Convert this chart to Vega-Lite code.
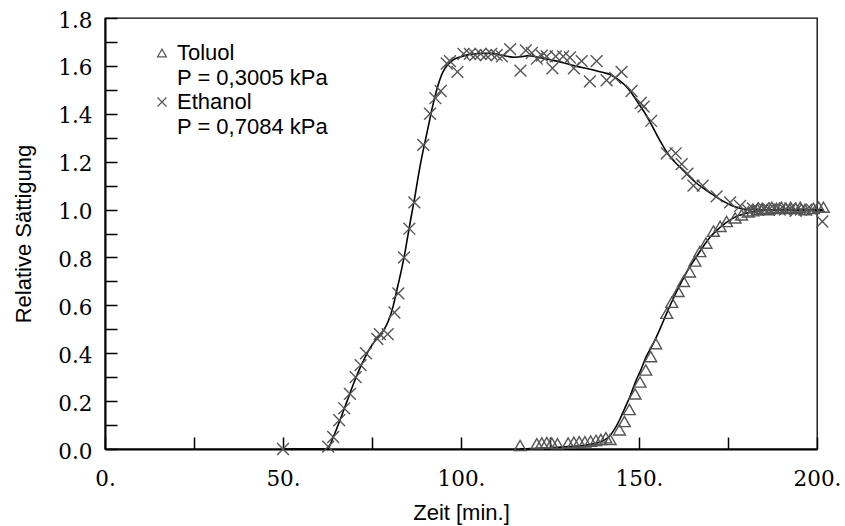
{
  "$schema": "https://vega.github.io/schema/vega-lite/v6.json",
  "width": 712,
  "height": 431,
  "autosize": "none",
  "padding": {"left": 105, "top": 18, "right": 28, "bottom": 77},
  "background": "white",
  "config": {
    "view": {"stroke": "black", "strokeWidth": 1.3},
    "axis": {"grid": false},
    "style": {"guide-label": {"lineHeight": 25}}
  },
  "datasets": {
    "pts": [
      {"s": "Ethanol", "t": 50, "v": 0.0},
      {"s": "Ethanol", "t": 62.7, "v": 0.01},
      {"s": "Ethanol", "t": 64.1, "v": 0.05},
      {"s": "Ethanol", "t": 65.8, "v": 0.12},
      {"s": "Ethanol", "t": 67.2, "v": 0.17},
      {"s": "Ethanol", "t": 68.8, "v": 0.23},
      {"s": "Ethanol", "t": 70.4, "v": 0.3},
      {"s": "Ethanol", "t": 71.8, "v": 0.35},
      {"s": "Ethanol", "t": 73.3, "v": 0.4},
      {"s": "Ethanol", "t": 76.5, "v": 0.46},
      {"s": "Ethanol", "t": 77.2, "v": 0.48},
      {"s": "Ethanol", "t": 79.4, "v": 0.48},
      {"s": "Ethanol", "t": 81.3, "v": 0.57},
      {"s": "Ethanol", "t": 82.4, "v": 0.65},
      {"s": "Ethanol", "t": 84.0, "v": 0.8},
      {"s": "Ethanol", "t": 85.5, "v": 0.92},
      {"s": "Ethanol", "t": 86.9, "v": 1.03},
      {"s": "Ethanol", "t": 89.4, "v": 1.27},
      {"s": "Ethanol", "t": 91.3, "v": 1.4},
      {"s": "Ethanol", "t": 92.8, "v": 1.465},
      {"s": "Ethanol", "t": 94.3, "v": 1.495},
      {"s": "Ethanol", "t": 96.0, "v": 1.61},
      {"s": "Ethanol", "t": 96.9, "v": 1.62},
      {"s": "Ethanol", "t": 99.0, "v": 1.575},
      {"s": "Ethanol", "t": 100.7, "v": 1.65},
      {"s": "Ethanol", "t": 102.5, "v": 1.65},
      {"s": "Ethanol", "t": 104.0, "v": 1.645},
      {"s": "Ethanol", "t": 105.5, "v": 1.65},
      {"s": "Ethanol", "t": 107.0, "v": 1.645},
      {"s": "Ethanol", "t": 108.5, "v": 1.65},
      {"s": "Ethanol", "t": 110.0, "v": 1.645},
      {"s": "Ethanol", "t": 111.5, "v": 1.64},
      {"s": "Ethanol", "t": 113.8, "v": 1.67},
      {"s": "Ethanol", "t": 116.7, "v": 1.58},
      {"s": "Ethanol", "t": 118.2, "v": 1.665},
      {"s": "Ethanol", "t": 119.9, "v": 1.654},
      {"s": "Ethanol", "t": 121.3, "v": 1.63},
      {"s": "Ethanol", "t": 122.7, "v": 1.643},
      {"s": "Ethanol", "t": 124.1, "v": 1.64},
      {"s": "Ethanol", "t": 125.7, "v": 1.59},
      {"s": "Ethanol", "t": 126.6, "v": 1.64},
      {"s": "Ethanol", "t": 128.7, "v": 1.64},
      {"s": "Ethanol", "t": 130.6, "v": 1.635},
      {"s": "Ethanol", "t": 131.7, "v": 1.59},
      {"s": "Ethanol", "t": 133.9, "v": 1.62},
      {"s": "Ethanol", "t": 136.2, "v": 1.535},
      {"s": "Ethanol", "t": 138.1, "v": 1.62},
      {"s": "Ethanol", "t": 140.9, "v": 1.54},
      {"s": "Ethanol", "t": 143.3, "v": 1.55},
      {"s": "Ethanol", "t": 145.1, "v": 1.575},
      {"s": "Ethanol", "t": 147.9, "v": 1.495},
      {"s": "Ethanol", "t": 150.5, "v": 1.445},
      {"s": "Ethanol", "t": 151.3, "v": 1.43},
      {"s": "Ethanol", "t": 153.4, "v": 1.37},
      {"s": "Ethanol", "t": 157.8, "v": 1.235},
      {"s": "Ethanol", "t": 160.3, "v": 1.235},
      {"s": "Ethanol", "t": 162.0, "v": 1.19},
      {"s": "Ethanol", "t": 163.6, "v": 1.15},
      {"s": "Ethanol", "t": 165.3, "v": 1.1},
      {"s": "Ethanol", "t": 167.9, "v": 1.1},
      {"s": "Ethanol", "t": 171.8, "v": 1.055},
      {"s": "Ethanol", "t": 175.6, "v": 1.03},
      {"s": "Ethanol", "t": 178.4, "v": 1.015},
      {"s": "Ethanol", "t": 180.5, "v": 1.0},
      {"s": "Ethanol", "t": 182.0, "v": 1.005},
      {"s": "Ethanol", "t": 183.5, "v": 1.0},
      {"s": "Ethanol", "t": 185.0, "v": 1.005},
      {"s": "Ethanol", "t": 186.5, "v": 1.0},
      {"s": "Ethanol", "t": 188.0, "v": 1.005},
      {"s": "Ethanol", "t": 189.5, "v": 1.0},
      {"s": "Ethanol", "t": 191.0, "v": 1.0},
      {"s": "Ethanol", "t": 192.5, "v": 1.005},
      {"s": "Ethanol", "t": 194.0, "v": 0.995},
      {"s": "Ethanol", "t": 195.5, "v": 1.0},
      {"s": "Ethanol", "t": 197.0, "v": 1.0},
      {"s": "Ethanol", "t": 198.5, "v": 1.0},
      {"s": "Ethanol", "t": 201.5, "v": 0.95},
      {"s": "Toluol", "t": 116.6, "v": 0.015},
      {"s": "Toluol", "t": 121.3, "v": 0.022},
      {"s": "Toluol", "t": 122.7, "v": 0.025},
      {"s": "Toluol", "t": 124.1, "v": 0.027},
      {"s": "Toluol", "t": 125.5, "v": 0.025},
      {"s": "Toluol", "t": 127.1, "v": 0.022},
      {"s": "Toluol", "t": 130.1, "v": 0.025},
      {"s": "Toluol", "t": 131.7, "v": 0.028},
      {"s": "Toluol", "t": 133.2, "v": 0.03},
      {"s": "Toluol", "t": 134.8, "v": 0.03},
      {"s": "Toluol", "t": 136.4, "v": 0.033},
      {"s": "Toluol", "t": 137.9, "v": 0.036},
      {"s": "Toluol", "t": 139.3, "v": 0.04},
      {"s": "Toluol", "t": 140.7, "v": 0.047},
      {"s": "Toluol", "t": 141.9, "v": 0.04},
      {"s": "Toluol", "t": 144.5, "v": 0.08},
      {"s": "Toluol", "t": 145.9, "v": 0.115},
      {"s": "Toluol", "t": 147.3, "v": 0.165},
      {"s": "Toluol", "t": 148.9, "v": 0.23},
      {"s": "Toluol", "t": 150.3, "v": 0.28},
      {"s": "Toluol", "t": 151.9, "v": 0.33},
      {"s": "Toluol", "t": 153.3, "v": 0.386},
      {"s": "Toluol", "t": 154.7, "v": 0.44},
      {"s": "Toluol", "t": 157.8, "v": 0.567},
      {"s": "Toluol", "t": 159.2, "v": 0.613},
      {"s": "Toluol", "t": 161.0, "v": 0.658},
      {"s": "Toluol", "t": 162.5, "v": 0.7},
      {"s": "Toluol", "t": 164.2, "v": 0.74},
      {"s": "Toluol", "t": 165.7, "v": 0.785},
      {"s": "Toluol", "t": 167.1, "v": 0.825},
      {"s": "Toluol", "t": 168.8, "v": 0.86},
      {"s": "Toluol", "t": 170.9, "v": 0.91},
      {"s": "Toluol", "t": 172.8, "v": 0.93},
      {"s": "Toluol", "t": 174.6, "v": 0.95},
      {"s": "Toluol", "t": 177.0, "v": 0.965},
      {"s": "Toluol", "t": 178.8, "v": 0.978},
      {"s": "Toluol", "t": 180.7, "v": 0.99},
      {"s": "Toluol", "t": 182.0, "v": 0.995},
      {"s": "Toluol", "t": 183.3, "v": 1.0},
      {"s": "Toluol", "t": 184.6, "v": 1.005},
      {"s": "Toluol", "t": 186.0, "v": 1.0},
      {"s": "Toluol", "t": 187.3, "v": 1.01},
      {"s": "Toluol", "t": 188.6, "v": 1.005},
      {"s": "Toluol", "t": 190.0, "v": 1.01},
      {"s": "Toluol", "t": 191.3, "v": 1.005},
      {"s": "Toluol", "t": 192.6, "v": 1.01},
      {"s": "Toluol", "t": 194.0, "v": 1.005},
      {"s": "Toluol", "t": 195.3, "v": 1.01},
      {"s": "Toluol", "t": 196.6, "v": 1.0},
      {"s": "Toluol", "t": 199.0, "v": 1.005},
      {"s": "Toluol", "t": 200.5, "v": 1.01},
      {"s": "Toluol", "t": 201.8, "v": 1.01}
    ],
    "fit": [
      {"s": "Ethanol", "t": 50, "v": 0},
      {"s": "Ethanol", "t": 62.5, "v": 0},
      {"s": "Ethanol", "t": 63, "v": 0.01},
      {"s": "Ethanol", "t": 64, "v": 0.045},
      {"s": "Ethanol", "t": 66, "v": 0.12},
      {"s": "Ethanol", "t": 68, "v": 0.2},
      {"s": "Ethanol", "t": 70, "v": 0.28},
      {"s": "Ethanol", "t": 72, "v": 0.35},
      {"s": "Ethanol", "t": 74, "v": 0.41},
      {"s": "Ethanol", "t": 76, "v": 0.455},
      {"s": "Ethanol", "t": 78, "v": 0.49},
      {"s": "Ethanol", "t": 79, "v": 0.515},
      {"s": "Ethanol", "t": 80, "v": 0.55},
      {"s": "Ethanol", "t": 81, "v": 0.6},
      {"s": "Ethanol", "t": 82, "v": 0.665},
      {"s": "Ethanol", "t": 83, "v": 0.73},
      {"s": "Ethanol", "t": 84, "v": 0.8},
      {"s": "Ethanol", "t": 85, "v": 0.885},
      {"s": "Ethanol", "t": 86, "v": 0.97},
      {"s": "Ethanol", "t": 87, "v": 1.05},
      {"s": "Ethanol", "t": 88, "v": 1.14},
      {"s": "Ethanol", "t": 89, "v": 1.22},
      {"s": "Ethanol", "t": 90, "v": 1.29},
      {"s": "Ethanol", "t": 91, "v": 1.36},
      {"s": "Ethanol", "t": 92, "v": 1.43},
      {"s": "Ethanol", "t": 93, "v": 1.49},
      {"s": "Ethanol", "t": 94, "v": 1.54},
      {"s": "Ethanol", "t": 95, "v": 1.577},
      {"s": "Ethanol", "t": 96, "v": 1.6},
      {"s": "Ethanol", "t": 97, "v": 1.615},
      {"s": "Ethanol", "t": 98, "v": 1.627},
      {"s": "Ethanol", "t": 100, "v": 1.638},
      {"s": "Ethanol", "t": 102, "v": 1.647},
      {"s": "Ethanol", "t": 104, "v": 1.651},
      {"s": "Ethanol", "t": 107, "v": 1.653},
      {"s": "Ethanol", "t": 110, "v": 1.649},
      {"s": "Ethanol", "t": 113, "v": 1.64},
      {"s": "Ethanol", "t": 115, "v": 1.636},
      {"s": "Ethanol", "t": 117, "v": 1.638},
      {"s": "Ethanol", "t": 119, "v": 1.643},
      {"s": "Ethanol", "t": 121, "v": 1.638},
      {"s": "Ethanol", "t": 123, "v": 1.632},
      {"s": "Ethanol", "t": 126, "v": 1.623},
      {"s": "Ethanol", "t": 129, "v": 1.612},
      {"s": "Ethanol", "t": 132, "v": 1.6},
      {"s": "Ethanol", "t": 135, "v": 1.59},
      {"s": "Ethanol", "t": 138, "v": 1.58},
      {"s": "Ethanol", "t": 140, "v": 1.572},
      {"s": "Ethanol", "t": 142, "v": 1.563},
      {"s": "Ethanol", "t": 144, "v": 1.545},
      {"s": "Ethanol", "t": 146, "v": 1.52},
      {"s": "Ethanol", "t": 148, "v": 1.485},
      {"s": "Ethanol", "t": 150, "v": 1.44},
      {"s": "Ethanol", "t": 152, "v": 1.395},
      {"s": "Ethanol", "t": 154, "v": 1.34},
      {"s": "Ethanol", "t": 156, "v": 1.285},
      {"s": "Ethanol", "t": 158, "v": 1.235},
      {"s": "Ethanol", "t": 160, "v": 1.2},
      {"s": "Ethanol", "t": 162, "v": 1.17},
      {"s": "Ethanol", "t": 164, "v": 1.14},
      {"s": "Ethanol", "t": 166, "v": 1.112},
      {"s": "Ethanol", "t": 168, "v": 1.09},
      {"s": "Ethanol", "t": 170, "v": 1.07},
      {"s": "Ethanol", "t": 172, "v": 1.05},
      {"s": "Ethanol", "t": 174, "v": 1.032},
      {"s": "Ethanol", "t": 176, "v": 1.017},
      {"s": "Ethanol", "t": 178, "v": 1.007},
      {"s": "Ethanol", "t": 180, "v": 1.001},
      {"s": "Ethanol", "t": 185, "v": 0.999},
      {"s": "Ethanol", "t": 190, "v": 0.998},
      {"s": "Ethanol", "t": 195, "v": 0.997},
      {"s": "Ethanol", "t": 201.8, "v": 0.995},
      {"s": "Toluol", "t": 116.6, "v": 0},
      {"s": "Toluol", "t": 120, "v": 0.002},
      {"s": "Toluol", "t": 125, "v": 0.005},
      {"s": "Toluol", "t": 130, "v": 0.01},
      {"s": "Toluol", "t": 135, "v": 0.016},
      {"s": "Toluol", "t": 138, "v": 0.024},
      {"s": "Toluol", "t": 140, "v": 0.035},
      {"s": "Toluol", "t": 141.5, "v": 0.05},
      {"s": "Toluol", "t": 143, "v": 0.08},
      {"s": "Toluol", "t": 144.5, "v": 0.12},
      {"s": "Toluol", "t": 146, "v": 0.17},
      {"s": "Toluol", "t": 147.5, "v": 0.22},
      {"s": "Toluol", "t": 149, "v": 0.28},
      {"s": "Toluol", "t": 150.5, "v": 0.33},
      {"s": "Toluol", "t": 152, "v": 0.385},
      {"s": "Toluol", "t": 154, "v": 0.44},
      {"s": "Toluol", "t": 156, "v": 0.505},
      {"s": "Toluol", "t": 158, "v": 0.575},
      {"s": "Toluol", "t": 160, "v": 0.64},
      {"s": "Toluol", "t": 162, "v": 0.7},
      {"s": "Toluol", "t": 164, "v": 0.755},
      {"s": "Toluol", "t": 166, "v": 0.8},
      {"s": "Toluol", "t": 168, "v": 0.845},
      {"s": "Toluol", "t": 170, "v": 0.885},
      {"s": "Toluol", "t": 172, "v": 0.915},
      {"s": "Toluol", "t": 174, "v": 0.94},
      {"s": "Toluol", "t": 176, "v": 0.96},
      {"s": "Toluol", "t": 178, "v": 0.975},
      {"s": "Toluol", "t": 180, "v": 0.985},
      {"s": "Toluol", "t": 183, "v": 0.993},
      {"s": "Toluol", "t": 187, "v": 0.998},
      {"s": "Toluol", "t": 192, "v": 1.0},
      {"s": "Toluol", "t": 201.8, "v": 1.0}
    ]
  },
  "encoding": {
    "x": {
      "field": "t",
      "type": "quantitative",
      "scale": {"domain": [0, 200], "nice": false, "zero": false},
      "axis": {
        "title": "Zeit [min.]",
        "values": [0, 25, 50, 75, 100, 125, 150, 175, 200],
        "labelExpr": "datum.value % 50 === 0 ? datum.value + '.' : ''",
        "labelFont": "DejaVu Serif",
        "labelFontSize": 21.5,
        "labelColor": "black",
        "labelPadding": 31,
        "labelFlush": false,
        "labelOverlap": false,
        "labelBound": false,
        "tickSize": -12,
        "tickColor": "black",
        "tickWidth": 1.5,
        "domainColor": "black",
        "domainWidth": 2,
        "titleFont": "Liberation Sans",
        "titleFontSize": 22,
        "titleFontWeight": "normal",
        "titleColor": "black",
        "titlePadding": 13,
        "encode": {"ticks": {"update": {"y2": {"signal": "datum.value % 50 === 0 ? -24 : -12"}}}}
      }
    },
    "y": {
      "field": "v",
      "type": "quantitative",
      "scale": {"domain": [0, 1.8], "nice": false},
      "axis": {
        "title": "Relative Sättigung",
        "values": [0, 0.1, 0.2, 0.3, 0.4, 0.5, 0.6, 0.7, 0.8, 0.9, 1.0, 1.1, 1.2, 1.3, 1.4, 1.5, 1.6, 1.7, 1.8],
        "labelExpr": "abs(datum.value*5 - round(datum.value*5)) < 0.01 ? format(datum.value, '.1f') : ''",
        "labelFont": "DejaVu Serif",
        "labelFontSize": 21.5,
        "labelColor": "black",
        "labelPadding": 25,
        "labelOffset": 3,
        "labelOverlap": false,
        "labelBound": false,
        "labelFlush": false,
        "tickSize": -12,
        "tickColor": "black",
        "tickWidth": 1.5,
        "domainColor": "black",
        "domainWidth": 2,
        "titleFont": "Liberation Sans",
        "titleFontSize": 22,
        "titleFontWeight": "normal",
        "titleColor": "black",
        "titlePadding": 22,
        "encode": {"ticks": {"update": {"x2": {"signal": "abs(datum.value*5 - round(datum.value*5)) < 0.01 ? 24 : 12"}}}}
      }
    }
  },
  "layer": [
    {
      "mark": {"type": "rule", "color": "black", "strokeWidth": 1.5},
      "encoding": {"y": {"datum": 1}, "x": {"datum": 0}, "x2": {"datum": 200}}
    },
    {
      "data": {"name": "fit"},
      "mark": {"type": "line", "color": "black", "strokeWidth": 1.6, "interpolate": "monotone"},
      "encoding": {"detail": {"field": "s"}}
    },
    {
      "data": {"name": "pts"},
      "mark": {"type": "point", "filled": false, "stroke": "#555555", "strokeWidth": 1.4, "size": 140, "opacity": 1},
      "encoding": {
        "shape": {
          "field": "s",
          "type": "nominal",
          "scale": {"domain": ["Toluol", "Ethanol"], "range": ["triangle-up", "M-1,-1L1,1M1,-1L-1,1"]},
          "legend": {
            "title": null,
            "orient": "none",
            "legendX": 46,
            "legendY": 24,
            "padding": 0,
            "offset": 0,
            "rowPadding": 2,
            "symbolSize": 80,
            "symbolStrokeColor": "#555555",
            "symbolStrokeWidth": 1.2,
            "symbolFillColor": "transparent",
            "labelFont": "Liberation Sans",
            "labelFontSize": 22,
            "labelColor": "black",
            "labelOffset": 4,
            "labelLimit": 400,
            "labelBaseline": "middle",
            "labelExpr": "datum.label === 'Toluol' ? ['Toluol', 'P = 0,3005 kPa'] : ['Ethanol', 'P = 0,7084 kPa']"
          }
        }
      }
    }
  ]
}
